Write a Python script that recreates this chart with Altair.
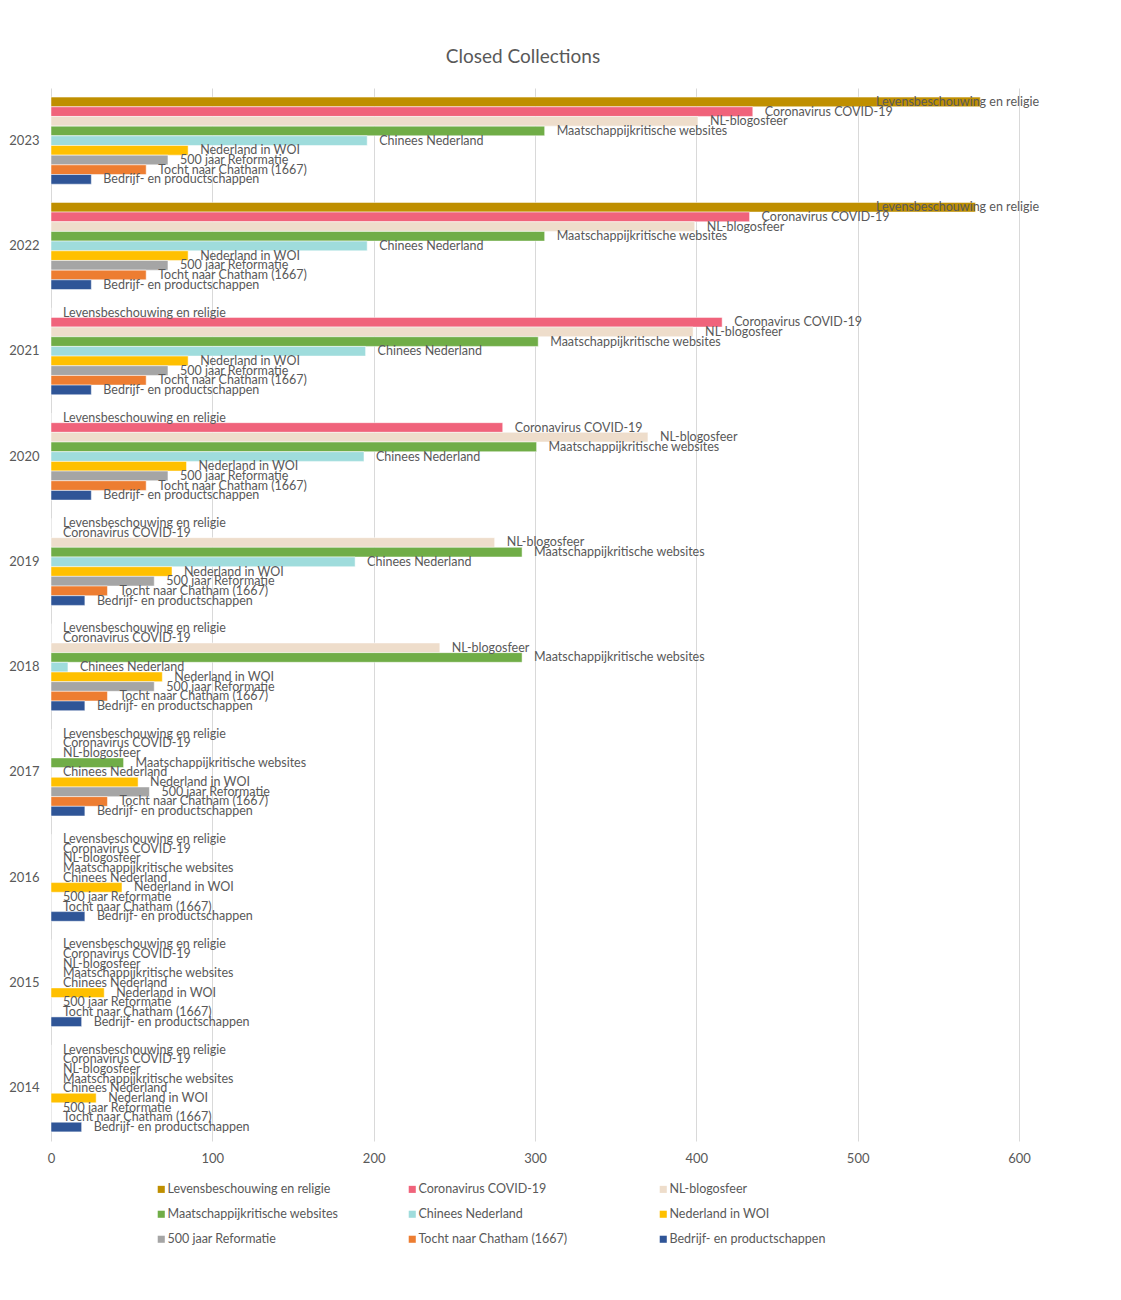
import altair as alt
import pandas as pd

years = ["2014", "2015", "2016", "2017", "2018", "2019", "2020", "2021", "2022", "2023"]

series = [
    "Levensbeschouwing en religie",
    "Coronavirus COVID-19",
    "NL-blogosfeer",
    "Maatschappijkritische websites",
    "Chinees Nederland",
    "Nederland in WOI",
    "500 jaar Reformatie",
    "Tocht naar Chatham (1667)",
    "Bedrijf- en productschappen",
]

colors = ["#BF8F00", "#F0637B", "#EEDDCB", "#70AD47", "#9FDCDC",
          "#FFC000", "#A5A5A5", "#ED7D31", "#2F5597"]

# values per series, 2014 .. 2023
levensbeschouwing = [0, 0, 0, 0, 0, 0, 0, 0, 573, 576]
coronavirus = [0, 0, 0, 0, 0, 0, 280, 416, 433, 435]
nl_blogosfeer = [0, 0, 0, 0, 241, 275, 370, 398, 399, 401]
maatschappijkritisch = [0, 0, 0, 45, 292, 292, 301, 302, 306, 306]
chinees = [0, 0, 0, 0, 10.5, 188.5, 194, 195, 196, 196]
woi = [28, 33, 44, 54, 69, 75, 84, 85, 85, 85]
reformatie = [0, 0, 0, 61, 64, 64, 72.5, 72.5, 72.5, 72.5]
chatham = [0, 0, 0, 35, 35, 35, 59, 59, 59, 59]
bedrijf = [19, 19, 21, 21, 21, 21, 25, 25, 25, 25]

values = [levensbeschouwing, coronavirus, nl_blogosfeer, maatschappijkritisch,
          chinees, woi, reformatie, chatham, bedrijf]

rows = []
for s, vals in zip(series, values):
    for y, v in zip(years, vals):
        rows.append({"year": y, "series": s, "value": v})
df = pd.DataFrame(rows)

FONT = "Lato"
TXT = "#595959"

base = alt.Chart(df).encode(
    y=alt.Y(
        "year:N",
        sort="descending",
        scale=alt.Scale(paddingInner=0.173, paddingOuter=0.0865),
        axis=alt.Axis(title=None, domain=False, ticks=False, labelPadding=12,
                      labelFontSize=13, labelColor=TXT, labelFont=FONT, grid=False),
    ),
    yOffset=alt.YOffset("series:N", sort=series,
                        scale=alt.Scale(domain=series, paddingInner=0, paddingOuter=0)),
)

x_axis = alt.Axis(values=[0, 100, 200, 300, 400, 500, 600], title=None, domain=False,
                  ticks=False, grid=True, gridColor="#D9D9D9", labelPadding=11,
                  labelFlush=False, labelOverlap=False,
                  labelFontSize=13, labelColor=TXT, labelFont=FONT)

bars = base.mark_bar(stroke="white", strokeWidth=0.5).encode(
    x=alt.X("value:Q", scale=alt.Scale(domain=[0, 600], nice=False), axis=x_axis),
    color=alt.Color(
        "series:N",
        sort=series,
        scale=alt.Scale(domain=series, range=colors),
        legend=alt.Legend(
            title=None, orient="none", legendX=104, legendY=1095, columns=3,
            direction="horizontal",
            gridAlign="all", columnPadding=67, rowPadding=12, symbolType="square",
            symbolSize=50, symbolStrokeWidth=0, labelOffset=0, labelFont=FONT,
            labelFontSize=12.5, labelColor=TXT, padding=0, labelLimit=300,
        ),
    ),
)

labels = base.transform_calculate(lx="min(datum.value, 504)").mark_text(
    align="left", baseline="middle", dx=12, font=FONT, fontSize=12.5, color=TXT
).encode(
    x=alt.X("lx:Q", scale=alt.Scale(domain=[0, 600], nice=False), axis=x_axis),
    text="series:N",
)

chart = (
    alt.layer(bars, labels)
    .properties(
        width=968,
        height=1053,
        background="white",
        title=alt.TitleParams("Closed Collections", font=FONT, fontSize=19, color=TXT,
                              fontWeight="normal", anchor="middle", offset=21, dx=-12),
        padding={"left": 0, "top": 40, "right": 5, "bottom": 5},
    )
    .configure_view(stroke="transparent", strokeWidth=0)
    .configure_axis(domain=False)
)

chart.save("out.html", embed_options={"renderer": "svg", "actions": False})
